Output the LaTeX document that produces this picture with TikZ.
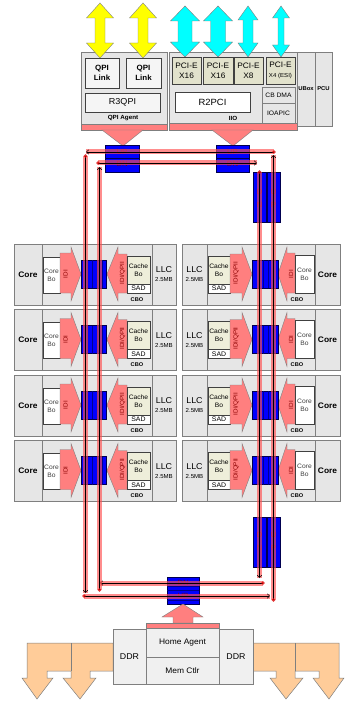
\documentclass[tikz,border=0pt]{standalone}
\usepackage{fontspec}
\setmainfont{Liberation Sans}[FakeStretch=1.05]
\usetikzlibrary{arrows.meta}
\definecolor{boxgray}{HTML}{E6E6E6}
\definecolor{edge}{HTML}{7F7F7F}
\definecolor{pinkA}{HTML}{FF7F7F}
\definecolor{ringpink}{HTML}{FF5050}
\definecolor{beige}{HTML}{EEEEDA}
\definecolor{pcigreen}{HTML}{E2E2CC}
\definecolor{ddrorange}{HTML}{FFCC99}
\definecolor{qblue}{HTML}{0000FF}
\definecolor{stopedge}{HTML}{000050}
\definecolor{stripe}{HTML}{000090}
\definecolor{cyanA}{HTML}{00FFFF}
\definecolor{yel}{HTML}{FFFF00}
\definecolor{darkred}{HTML}{8B0000}
\definecolor{stoptext}{HTML}{6A0030}
\newcommand\fsz[2]{\fontsize{#1pt}{#2pt}\selectfont}
\newcommand\bx[7]{%
  \pgfmathsetmacro\myW{(#5)-(#3)}\pgfmathsetmacro\myH{(#6)-(#4)}%
  \node[#2, anchor=north west, minimum width=\myW pt, minimum height=\myH pt,
        inner sep=0pt, outer sep=0pt] (#1) at (#3,#4) {#7};}
\newcommand\dbl[7]{%
  \pgfmathsetmacro\dA{#1-#4/2}\pgfmathsetmacro\dB{#1+#4/2}%
  \pgfmathsetmacro\dC{#1-#5/2}\pgfmathsetmacro\dD{#1+#5/2}%
  \pgfmathsetmacro\dE{#2+#6}\pgfmathsetmacro\dF{#3-#6}%
  \draw[#7] (#1,#2) -- (\dB,\dE) -- (\dD,\dE) -- (\dD,\dF) -- (\dB,\dF) -- (#1,#3)
    -- (\dA,\dF) -- (\dC,\dF) -- (\dC,\dE) -- (\dA,\dE) -- cycle;}
\tikzset{
  gbox/.style={draw=edge, fill=boxgray, line width=0.6pt, align=center},
  hbox/.style={draw=edge, fill=black!6, line width=0.6pt, align=center},
  wbox/.style={draw=black!75, fill=white, line width=0.5pt, align=center},
  lbox/.style={draw=black!75, fill=black!4, line width=0.5pt, align=center},
  bbox/.style={draw=black!75, fill=beige, line width=0.5pt, align=center},
  pbox/.style={draw=black!75, fill=pcigreen, line width=0.5pt, align=center},
  stopbox/.style={draw=stopedge, fill=qblue, line width=0.6pt},
  pinkshape/.style={fill=pinkA, draw=edge, line width=0.4pt},
  oshape/.style={fill=ddrorange, draw=edge, line width=0.5pt},
  yshape/.style={fill=yel, draw=edge, line width=0.4pt},
  cshape/.style={fill=cyanA, draw=edge, line width=0.4pt},
  band/.style={line width=5pt, draw=ringpink, draw opacity=0.65},
  rline/.style={line width=0.45pt, draw=black, -{Straight Barb[length=2.5pt,width=4.5pt]}},
  lbl/.style={inner sep=0pt, align=center},
  stoptxt/.style={inner sep=0pt, text=stoptext, font=\fsz{7.5}{7.5}},
  idi/.style={inner sep=0pt, rotate=90, text=darkred, font=\fsz{6}{6}},
  corefont/.style={font=\fsz{8}{8}\bfseries},
  llcfont/.style={font=\fsz{8.5}{9}},
  cbofont/.style={font=\fsz{6.4}{8}, text=black!75},
  cachefont/.style={font=\fsz{6.4}{8}},
  sadfont/.style={font=\fsz{6.6}{6.6}},
}
\begin{document}
\begin{tikzpicture}[x=1pt,y=-1pt]
\useasboundingbox (0,0) rectangle (347,703);

% ---------- core rows ----------
\foreach \i in {1,...,4}{
  \pgfmathsetmacro\rt{244+65.5*(\i-1)}
  % left row
  \bx{Lrow\i}{gbox}{14}{\rt}{176}{\rt+61}{}
  \bx{Lcore\i}{gbox, corefont}{14}{\rt}{42}{\rt+61}{Core}
  \bx{Lllc\i}{gbox, llcfont}{152}{\rt}{176}{\rt+61}{LLC\\{\fsz{5.8}{6}2.5MB}}
  \bx{Lcbo\i}{wbox, cbofont}{43}{\rt+13}{60}{\rt+49}{Core\\Bo}
  \draw[pinkshape] (60,\rt+9) -- (71,\rt+9) -- (71,\rt+3) -- (81,\rt+30) -- (71,\rt+57)
      -- (71,\rt+49) -- (60,\rt+49) -- cycle;
  \node[idi] (Lidi\i) at (65.5,\rt+30) {IDI};
  \draw[pinkshape] (127,\rt+10) -- (118,\rt+10) -- (118,\rt+3) -- (107,\rt+30) -- (118,\rt+57)
      -- (118,\rt+49) -- (127,\rt+49) -- cycle;
  \node[idi] (Lqpi\i) at (122.5,\rt+29) {IDI/QPII};
  \bx{Lcache\i}{bbox, cachefont}{127}{\rt+12}{150}{\rt+40}{Cache\\Bo}
  \bx{Lsad\i}{wbox, sadfont}{127}{\rt+40}{150}{\rt+49}{SAD}
  \node[lbl, font=\fsz{5.4}{5.4}\bfseries] (Lcbol\i) at (137,\rt+55.5) {CBO};
  \bx{Lstop\i}{stopbox}{81}{\rt+16}{106}{\rt+44}{}
  \foreach \sx in {87,92,97,102}{\draw[stripe, line width=0.6pt] (\sx,\rt+16) -- (\sx,\rt+44);}
  % right row
  \bx{Rrow\i}{gbox}{182}{\rt}{340}{\rt+61}{}
  \bx{Rllc\i}{gbox, llcfont}{182}{\rt}{207}{\rt+61}{LLC\\{\fsz{5.8}{6}2.5MB}}
  \bx{Rcore\i}{gbox, corefont}{315}{\rt}{340}{\rt+61}{Core}
  \bx{Rcache\i}{bbox, cachefont}{208}{\rt+12}{230}{\rt+40}{Cache\\Bo}
  \bx{Rsad\i}{wbox, sadfont}{208}{\rt+40}{230}{\rt+49}{SAD}
  \draw[pinkshape] (230,\rt+10) -- (242,\rt+10) -- (242,\rt+3) -- (252,\rt+30) -- (242,\rt+57)
      -- (242,\rt+49) -- (230,\rt+49) -- cycle;
  \node[idi] (Rqpi\i) at (236,\rt+29) {IDI/QPII};
  \draw[pinkshape] (295,\rt+9) -- (287,\rt+9) -- (287,\rt+3) -- (278,\rt+30) -- (287,\rt+57)
      -- (287,\rt+49) -- (295,\rt+49) -- cycle;
  \node[idi] (Ridi\i) at (291,\rt+30) {IDI};
  \bx{Rcbo\i}{wbox, cbofont}{295}{\rt+11}{314}{\rt+49}{Core\\Bo}
  \node[lbl, font=\fsz{5.4}{5.4}\bfseries] (Rcbol\i) at (297,\rt+55.5) {CBO};
  \bx{Rstop\i}{stopbox}{252}{\rt+16}{278}{\rt+44}{}
  \foreach \sx in {258,263,268,273}{\draw[stripe, line width=0.6pt] (\sx,\rt+16) -- (\sx,\rt+44);}
}

% ---------- QPI agent ----------
\bx{qpiag}{gbox}{81}{52}{167}{124}{}
\dbl{100}{3}{58}{27}{10}{15}{yshape}
\dbl{143}{3}{58}{27}{10}{15}{yshape}
\bx{ql1}{lbox, font=\fsz{7.6}{10.5}\bfseries}{85}{58}{119}{88}{QPI\\Link}
\bx{ql2}{lbox, font=\fsz{7.6}{10.5}\bfseries}{126}{58}{161}{88}{QPI\\Link}
\bx{r3qpi}{lbox, font=\fsz{8.6}{8.6}}{85}{93}{160}{112}{R3QPI}
\node[lbl, font=\fsz{6}{6}\bfseries] (qpilbl) at (123,118.5) {QPI Agent};
\bx{qpibar}{pinkshape}{81}{124}{167}{130}{}
\draw[pinkshape] (102,130) -- (143,130) -- (123,146) -- cycle;

% ---------- IIO ----------
\bx{iio}{gbox}{169}{52}{297}{123}{}
\dbl{185}{6}{57}{29}{14}{15}{cshape}
\dbl{218}{6}{57}{29}{15}{15}{cshape}
\dbl{248}{6}{57}{20}{10}{14}{cshape}
\dbl{281}{6}{57}{17}{6}{12}{cshape}
\bx{pci1}{pbox, font=\fsz{7.9}{10}}{172}{57}{201}{84}{PCI-E\\X16}
\bx{pci2}{pbox, font=\fsz{7.9}{10}}{203}{57}{233}{84}{PCI-E\\X16}
\bx{pci3}{pbox, font=\fsz{7.9}{10}}{234}{57}{263}{84}{PCI-E\\X8}
\bx{pci4}{pbox, font=\fsz{7.9}{10}}{266}{57}{295}{84}{PCI-E\\{\fsz{5.8}{6}X4 (ESI)}}
\bx{r2pci}{wbox, font=\fsz{9}{9}}{175}{92}{250}{112}{R2PCI}
\bx{cbdma}{gbox, font=\fsz{6.4}{6.4}}{262}{87}{295}{103}{CB DMA}
\bx{ioapic}{gbox, font=\fsz{6.4}{6.4}}{262}{103}{295}{123}{IOAPIC}
\node[lbl, font=\fsz{6}{6}\bfseries] (iiolbl) at (233,118.5) {IIO};
\bx{ubox}{gbox, font=\fsz{5.6}{6}\bfseries}{297}{52}{315}{126}{UBox}
\bx{pcu}{gbox, font=\fsz{5.6}{6}\bfseries}{315}{52}{332}{126}{PCU}
\bx{iiobar}{pinkshape}{169}{123}{297}{130}{}
\draw[pinkshape] (212,130) -- (253,130) -- (233,146) -- cycle;

% ---------- ring stops ----------
\bx{stopQ}{stopbox}{105}{145}{139}{172}{}
\draw[stopedge, line width=0.6pt] (105,158) -- (139,158);
\node[stoptxt] (stopQup) at (122,151.5) {UP};
\node[stoptxt] (stopQdn) at (122,164) {DN};
\bx{stopI}{stopbox}{216}{145}{249}{172}{}
\draw[stopedge, line width=0.6pt] (216,158) -- (249,158);
\node[stoptxt] (stopIup) at (232.5,151.5) {UP};
\node[stoptxt] (stopIdn) at (232.5,164) {DN};
\bx{stopRT1}{stopbox}{253}{172}{266}{222}{}
\bx{stopRT2}{stopbox}{267}{172}{280}{222}{}
\node[stoptxt, align=center, font=\fsz{7.5}{13}] (stopRT1t) at (259.5,198) {D\\N};
\node[stoptxt, align=center, font=\fsz{7.5}{13}] (stopRT2t) at (273.5,198) {U\\P};
\bx{stopRB1}{stopbox}{253}{517}{266}{567}{}
\bx{stopRB2}{stopbox}{267}{517}{280}{567}{}
\node[stoptxt, align=center, font=\fsz{7.5}{13}] (stopRB1t) at (259.5,541) {D\\N};
\node[stoptxt, align=center, font=\fsz{7.5}{13}] (stopRB2t) at (273.5,541) {U\\P};
\bx{stopH}{stopbox}{167}{577}{199}{604}{}
\foreach \sy in {586,590.5,600}{\draw[stripe, line width=0.6pt] (167,\sy) -- (199,\sy);}
\node[stoptxt] (stopHdn) at (183,582.5) {DN};
\node[stoptxt] (stopHup) at (183,595.5) {UP};

% ---------- home agent / memory ----------
\draw[oshape] (27,643) -- (113,643) -- (113,671) -- (90,671) -- (90,678) -- (96,678) -- (80,699)
  -- (63,678) -- (71,678) -- (71,671) -- (47,671) -- (47,678) -- (53,678) -- (37,699) -- (22,678)
  -- (27,678) -- cycle;
\draw[edge, line width=0.5pt] (71,643) -- (71,671);
\draw[oshape] (339,643) -- (253,643) -- (253,671) -- (276,671) -- (276,678) -- (270,678) -- (286,699)
  -- (303,678) -- (295,678) -- (295,671) -- (319,671) -- (319,678) -- (313,678) -- (329,699) -- (344,678)
  -- (339,678) -- cycle;
\draw[edge, line width=0.5pt] (295,643) -- (295,671);
\draw[pinkshape] (173,623) -- (173,617) -- (162,617) -- (183,604) -- (203,617) -- (193,617)
  -- (193,623) -- cycle;
\bx{habar}{pinkshape}{146}{623}{219}{628}{}
\bx{ddrL}{hbox, font=\fsz{8.4}{8.4}}{113}{629}{146}{684}{DDR}
\bx{ddrR}{hbox, font=\fsz{8.4}{8.4}}{219}{629}{253}{684}{DDR}
\bx{homeag}{hbox, font=\fsz{8}{8}}{146}{628}{219}{657}{Home Agent}
\bx{memctl}{hbox, font=\fsz{8}{8}}{146}{657}{219}{684}{Mem Ctlr}

% ---------- ring ----------
\coordinate (a1s) at (274,152); \coordinate (a1e) at (86,152);
\coordinate (a2s) at (85.5,156); \coordinate (a2e) at (85.5,593);
\coordinate (a3s) at (84,596);  \coordinate (a3e) at (270,596);
\coordinate (a4s) at (273.5,600); \coordinate (a4e) at (273.5,155);
\coordinate (b1s) at (98,163);  \coordinate (b1e) at (257,163);
\coordinate (b2s) at (259.5,172); \coordinate (b2e) at (259.5,578);
\coordinate (b3s) at (263,583); \coordinate (b3e) at (100,583);
\coordinate (b4s) at (99.5,590); \coordinate (b4e) at (99.5,167);
\foreach \s in {a1,a2,a3,a4,b1,b2,b3,b4}{
  \draw[band] (\s s) -- (\s e);
  \draw[rline] (\s s) -- (\s e);
  \fill[red!85!black, opacity=0.8] (\s s) circle (1.8);
}
\end{tikzpicture}
\end{document}
